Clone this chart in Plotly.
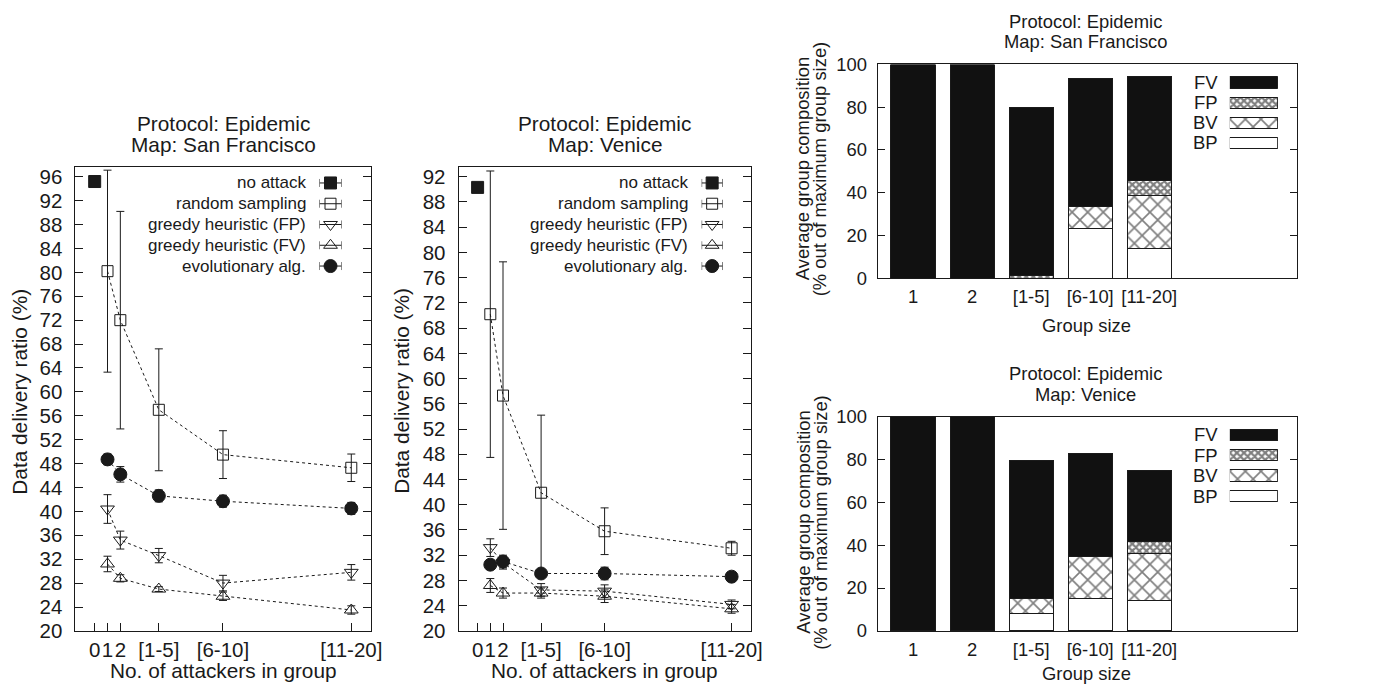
import plotly.graph_objects as go

W, H = 1386, 690
FONT = "Liberation Sans, Arial, Helvetica, sans-serif"
INK = "#1a1a1a"

# ---------------- data: delivery ratio ----------------
x_tickvals = [0, 1, 2, 5, 10, 20]
x_ticktext = ["0", "1", "2", "[1-5]", "[6-10]", "[11-20]"]
x_noattack = [0]
x_attack = [1, 2, 5, 10, 20]

series_names = ["no attack", "random sampling", "greedy heuristic (FP)",
                "greedy heuristic (FV)", "evolutionary alg."]

# San Francisco
sf_noattack = [95.2]
sf_noattack_err = [0.0]
sf_random = [80.2, 72.0, 57.0, 49.5, 47.3]
sf_random_err = [16.9, 18.2, 10.2, 4.0, 2.3]
sf_greedy_fp = [40.4, 35.2, 32.6, 28.0, 29.8]
sf_greedy_fp_err = [2.4, 1.5, 1.2, 1.3, 1.3]
sf_greedy_fv = [31.2, 28.8, 27.0, 25.8, 23.5]
sf_greedy_fv_err = [1.3, 0.6, 0.4, 0.7, 0.7]
sf_evo = [48.7, 46.2, 42.6, 41.7, 40.5]
sf_evo_err = [0.9, 1.3, 1.0, 1.0, 1.0]

# Venice
ve_noattack = [90.3]
ve_noattack_err = [0.0]
ve_random = [70.2, 57.3, 41.9, 35.8, 33.1]
ve_random_err = [22.7, 21.2, 12.3, 3.7, 1.1]
ve_greedy_fp = [33.2, 30.8, 26.5, 26.3, 24.2]
ve_greedy_fp_err = [1.4, 1.0, 1.0, 1.0, 0.7]
ve_greedy_fv = [27.2, 26.0, 26.0, 25.5, 23.5]
ve_greedy_fv_err = [1.1, 0.8, 0.8, 1.0, 0.7]
ve_evo = [30.5, 31.0, 29.1, 29.1, 28.6]
ve_evo_err = [0.5, 1.0, 0.5, 1.0, 0.5]

# ---------------- data: group composition ----------------
group_sizes = ["1", "2", "[1-5]", "[6-10]", "[11-20]"]
comp_names = ["BP", "BV", "FP", "FV"]  # bottom -> top
sf_bp = [0, 0, 0, 23.4, 13.7]
sf_bv = [0, 0, 0, 9.9, 24.9]
sf_fp = [0, 0, 1.0, 0, 7.2]
sf_fv = [100, 100, 79.0, 60.1, 48.6]
ve_bp = [0, 0, 8.1, 15.1, 14.1]
ve_bv = [0, 0, 7.2, 19.4, 22.0]
ve_fp = [0, 0, 0, 0, 5.8]
ve_fv = [100, 100, 64.4, 48.3, 32.8]

# ---------------- styles ----------------
marker_styles = [
    dict(symbol="square", size=12, color=INK, line=dict(color=INK, width=1)),
    dict(symbol="square-open", size=11, color=INK, line=dict(color=INK, width=1)),
    dict(symbol="triangle-down-open", size=12, color=INK, line=dict(color=INK, width=1)),
    dict(symbol="triangle-up-open", size=12, color=INK, line=dict(color=INK, width=1)),
    dict(symbol="circle", size=13, color=INK, line=dict(color=INK, width=1)),
]
comp_styles = {
    "BP": dict(color="white", line=dict(color=INK, width=1)),
    "BV": dict(color="white", line=dict(color=INK, width=1),
               pattern=dict(shape="x", size=11, solidity=0.28, fgcolor="#000000", bgcolor="white")),
    "FP": dict(color="white", line=dict(color=INK, width=1),
               pattern=dict(shape="x", size=5, solidity=0.7, fgcolor="#000000", bgcolor="white")),
    "FV": dict(color="#111111", line=dict(color=INK, width=1)),
}

# mapping from target-picture pixels to page fractions
SX, OX = 0.991, -1.4
SY, OY = 0.9695, 9.2


def px(x):
    return ((x - OX) / SX) / W


def py(y):
    return 1 - ((y - OY) / SY) / H


fig = go.Figure()

# ---------------- line charts ----------------
line_panels = [
    ("x", "y", [sf_noattack, sf_random, sf_greedy_fp, sf_greedy_fv, sf_evo],
     [sf_noattack_err, sf_random_err, sf_greedy_fp_err, sf_greedy_fv_err, sf_evo_err]),
    ("x2", "y2", [ve_noattack, ve_random, ve_greedy_fp, ve_greedy_fv, ve_evo],
     [ve_noattack_err, ve_random_err, ve_greedy_fp_err, ve_greedy_fv_err, ve_evo_err]),
]
for xa, ya, vals, errs in line_panels:
    for i, (name, v, e) in enumerate(zip(series_names, vals, errs)):
        xs = x_noattack if i == 0 else x_attack
        fig.add_trace(go.Scatter(
            x=xs, y=v, name=name, xaxis=xa, yaxis=ya, showlegend=False,
            mode="markers" if i == 0 else "lines+markers",
            line=dict(color=INK, width=1, dash="3px,3px"),
            marker=marker_styles[i],
            error_y=dict(type="data", array=e, visible=True, color=INK,
                         thickness=1, width=4),
        ))

# ---------------- bar charts ----------------
bar_panels = [("x3", "y3", [sf_bp, sf_bv, sf_fp, sf_fv]),
              ("x4", "y4", [ve_bp, ve_bv, ve_fp, ve_fv])]
for xa, ya, comps in bar_panels:
    for name, v in zip(comp_names, comps):
        fig.add_trace(go.Bar(
            x=group_sizes, y=v, name=name, xaxis=xa, yaxis=ya, showlegend=False,
            width=0.75, marker=comp_styles[name],
        ))

# ---------------- manual legends ----------------
line_leg = [("x5", "y5", 318, 340), ("x6", "y6", 700, 721)]
for xa, ya, _, _ in line_leg:
    for i, name in enumerate(series_names):
        fig.add_trace(go.Scatter(
            x=[0.5], y=[i], xaxis=xa, yaxis=ya, showlegend=False, mode="markers",
            marker=marker_styles[i], cliponaxis=False,
            error_x=dict(type="constant", value=0.5, visible=True, color=INK,
                         thickness=1, width=4),
        ))
        fig.add_annotation(x=0, y=i, xref=xa, yref=ya, text=name, showarrow=False,
                           xanchor="right", yanchor="middle", xshift=-12,
                           font=dict(size=17, family=FONT, color=INK))

bar_leg = [("x7", "y7"), ("x8", "y8")]
leg_order = comp_names[::-1]
for xa, ya in bar_leg:
    for i, name in enumerate(leg_order):
        fig.add_trace(go.Bar(
            x=[1], y=[i], base=0, orientation="h", xaxis=xa, yaxis=ya, showlegend=False,
            width=0.56, marker=comp_styles[name], cliponaxis=False,
        ))
        fig.add_annotation(x=0, y=i, xref=xa, yref=ya, text=name, showarrow=False,
                           xanchor="right", yanchor="middle", xshift=-10,
                           font=dict(size=18.5, family=FONT, color=INK))

# ---------------- axes ----------------
common = dict(showline=True, linecolor=INK, linewidth=1, showgrid=False, zeroline=False,
              ticks="inside", tickcolor=INK, tickwidth=1)

lx_font = dict(size=20.5, family=FONT, color=INK)
rx_font = dict(size=18.4, family=FONT, color=INK)

layout_axes = {}
for idx, (x0, x1, ymax) in zip(["", "2"], [(74, 369, 97.7), (457, 749, 93.6)]):
    layout_axes["xaxis" + idx] = dict(
        common, domain=[px(x0), px(x1)], range=[-1.5, 21.5], anchor="y" + idx,
        tickvals=x_tickvals, ticktext=x_ticktext, ticklen=8, mirror=True,
        tickfont=lx_font, ticklabelstandoff=0, tickangle=0)
    layout_axes["yaxis" + idx] = dict(
        common, domain=[py(630), py(165)], range=[20, ymax], anchor="x" + idx,
        dtick=4, tick0=20, ticklen=8, mirror="ticks", tickfont=lx_font,
        ticklabelstandoff=8)

for xs, ys, (top, bot) in zip(["3", "4"], ["3", "4"], [(62.7, 276.7), (415.3, 630)]):
    layout_axes["xaxis" + xs] = dict(
        common, domain=[px(876), px(1295)], range=[-0.6, 6.5], anchor="y" + ys,
        type="category", ticks="", mirror=True, tickfont=rx_font,
        ticklabelstandoff=2, tickangle=0)
    layout_axes["yaxis" + ys] = dict(
        common, domain=[py(bot), py(top)], range=[0, 100], anchor="x" + xs,
        dtick=20, ticklen=7, mirror="ticks", tickfont=rx_font, ticklabelstandoff=6)

hidden = dict(visible=False, showgrid=False, zeroline=False, fixedrange=True)
for (xa, ya, k0, k1) in line_leg:
    n = xa[1:]
    layout_axes["xaxis" + n] = dict(hidden, domain=[px(k0), px(k1)], range=[0, 1], anchor=ya)
    layout_axes["yaxis" + n] = dict(hidden, domain=[py(275), py(171)], range=[4.5, -0.5], anchor=xa)

for (xa, ya), (top, bot) in zip(bar_leg, [(70.8, 151.2), (423.4, 505.2)]):
    n = xa[1:]
    layout_axes["xaxis" + n] = dict(hidden, domain=[px(1228), px(1276)], range=[0, 1], anchor=ya)
    layout_axes["yaxis" + n] = dict(hidden, domain=[py(bot), py(top)], range=[3.5, -0.5], anchor=xa)

fig.update_layout(**layout_axes)

# ---------------- titles / labels ----------------
def text(x, y, s, size, angle=0):
    fig.add_annotation(x=px(x), y=py(y), xref="paper", yref="paper", text=s,
                       showarrow=False, xanchor="center", yanchor="middle",
                       textangle=angle, font=dict(size=size, family=FONT, color=INK))

text(222, 122, "Protocol: Epidemic", 20.8)
text(222, 143, "Map: San Francisco", 20.8)
text(603, 122, "Protocol: Epidemic", 20.8)
text(603, 143, "Map: Venice", 20.8)
text(222, 670, "No. of attackers in group", 20.8)
text(603, 670, "No. of attackers in group", 20.8)
text(18, 390, "Data delivery ratio (%)", 20.8, -90)
text(400, 390, "Data delivery ratio (%)", 20.8, -90)

text(1084, 20, "Protocol: Epidemic", 18.4)
text(1084, 40, "Map: San Francisco", 18.4)
text(1084, 372, "Protocol: Epidemic", 18.4)
text(1084, 393, "Map: Venice", 18.4)
text(1085, 324, "Group size", 18.4)
text(1085, 673, "Group size", 18.4)
for yc in (167, 521):
    text(801, yc, "Average group composition", 18.4, -90)
    text(818, yc, "(% out of maximum group size)", 18.4, -90)

fig.update_layout(
    width=W, height=H, margin=dict(l=0, r=0, t=0, b=0), autosize=False,
    paper_bgcolor="white", plot_bgcolor="white",
    barmode="stack", bargap=0.25, showlegend=False,
    font=dict(family=FONT, color=INK),
)

fig.write_html("out.html",
               config={"responsive": False, "displayModeBar": False},
               post_script="document.body.style.margin='0px';")
